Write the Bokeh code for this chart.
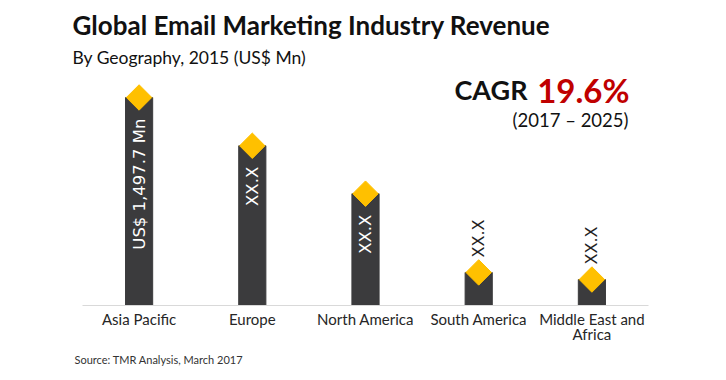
import math
from bokeh.plotting import figure
from bokeh.models import ColumnDataSource, Range1d, FactorRange, Label, Title
from bokeh.core.properties import value
from bokeh.embed import file_html
from bokeh.resources import INLINE

# ---- data ----
regions = ["Asia Pacific", "Europe", "North America", "South America", "Middle East and\nAfrica"]
revenue = [1497.7, 1150, 805, 238, 187]
bar_labels = ["US$ 1,497.7 Mn", "XX.X", "XX.X", "XX.X", "XX.X"]

title_text = "Global Email Marketing Industry Revenue"
subtitle_text = "By Geography, 2015 (US$ Mn)"
cagr_label = "CAGR"
cagr_value = "19.6%"
cagr_period = "(2017 \u2013 2025)"
source_text = "Source: TMR Analysis, March 2017"

# ---- layout ----
FRAME_W, FRAME_H = 566, 234
PX_PER_UNIT = 7.2          # revenue units per pixel
y_max = FRAME_H * PX_PER_UNIT
FRAME_LEFT_IMG = 82
FRAME_BOTTOM_IMG = 305

FONT = "Lato"
BAR = "#3b3b3d"
GOLD = "#FFC000"
RED = "#C00000"


def dx(px):
    return (px - FRAME_LEFT_IMG) / FRAME_W * len(regions)


def dy(py):
    return (FRAME_BOTTOM_IMG - py) * PX_PER_UNIT


p = figure(frame_width=FRAME_W, frame_height=FRAME_H, x_range=FactorRange(factors=regions),
           y_range=Range1d(0, y_max), output_backend="svg", toolbar_location=None,
           y_axis_location=None,
           min_border_left=82, min_border_right=62, min_border_top=71, min_border_bottom=0)
p.outline_line_color = None
p.xgrid.grid_line_color = None
p.ygrid.grid_line_color = None
p.background_fill_color = "white"
p.border_fill_color = "white"

src = ColumnDataSource(dict(region=regions, revenue=revenue, label=bar_labels))
inside = [i for i, v in enumerate(revenue) if v > 500]
outside = [i for i, v in enumerate(revenue) if v <= 500]
src_in = ColumnDataSource(dict(region=[regions[i] for i in inside],
                               revenue=[revenue[i] for i in inside],
                               label=[bar_labels[i] for i in inside]))
src_out = ColumnDataSource(dict(region=[regions[i] for i in outside],
                                revenue=[revenue[i] for i in outside],
                                label=[bar_labels[i] for i in outside]))

p.vbar(x="region", top="revenue", width=0.24, source=src, color=BAR)
p.scatter(x="region", y="revenue", marker="square", angle=math.pi / 4, size=18,
          color=GOLD, source=src)

p.text(x="region", y="revenue", text="label", source=src_in, angle=math.pi / 2,
       text_align="right", text_baseline="middle", y_offset=21,
       text_color="white", text_font_size="16.5px", text_font=value("DejaVu Sans"))
p.text(x="region", y="revenue", text="label", source=src_out, angle=math.pi / 2,
       text_align="left", text_baseline="middle", y_offset=-15,
       text_color="#222222", text_font_size="16px", text_font=value("DejaVu Sans"))

ax = p.xaxis[0]
ax.axis_line_color = "#d9d9d9"
ax.axis_line_width = 1
ax.major_tick_line_color = None
ax.minor_tick_line_color = None
ax.major_label_orientation = "horizontal"
ax.major_label_standoff = -2
ax.major_label_text_font = FONT
ax.major_label_text_font_size = "15px"
ax.major_label_text_line_height = 0.87
ax.major_label_text_color = "#262626"

# titles above (first added is nearest the frame)
p.add_layout(Title(text=subtitle_text, align="left", offset=-10, text_font=FONT,
                   text_font_size="17.5px", text_font_style="normal", text_color="#111111",
                   standoff=8), "above")
p.add_layout(Title(text=title_text, align="left", offset=-10, text_font=FONT,
                   text_font_size="26px", text_font_style="bold", text_color="#111111",
                   standoff=0), "above")
p.add_layout(Title(text=source_text, align="left", offset=-8, text_font=FONT,
                   text_font_size="11px", text_font_style="normal", text_color="#333333",
                   standoff=9), "below")


def lab(text, px, py, size, color="#111111", style="normal", align="left"):
    p.add_layout(Label(x=dx(px), y=dy(py), text=text, text_font=FONT,
                       text_font_size=size, text_color=color, text_font_style=style,
                       text_align=align, text_baseline="alphabetic"))


lab(cagr_label, 527, 89, "27px", style="bold", align="right")
lab(cagr_value, 629, 89, "33px", color=RED, style="bold", align="right")
lab(cagr_period, 628, 119, "18.5px", align="right")

open("out.html", "w").write(file_html(p, INLINE))
